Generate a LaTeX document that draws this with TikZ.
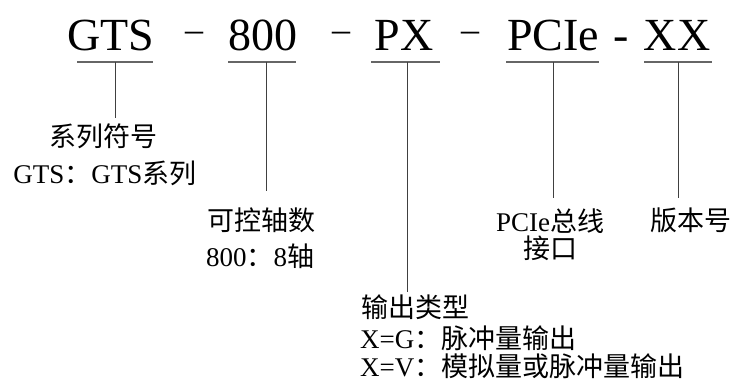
\documentclass[tikz,border=0pt]{standalone}
\usepackage{fontspec}
\setmainfont{Liberation Serif}
\newfontfamily\cjk{Noto Sans CJK SC}
\begin{document}
\begin{tikzpicture}[x=1pt,y=-1pt,
  title/.style={anchor=base,inner sep=0pt,font=\fontsize{46}{46}\selectfont},
  dashmark/.style={anchor=base,inner sep=0pt,font=\fontsize{36}{36}\selectfont},
  lbl/.style={anchor=base,inner sep=0pt,font=\fontsize{27}{30}\selectfont},
  lbll/.style={anchor=base west,inner sep=0pt,font=\fontsize{27}{30}\selectfont},
  uline/.style={draw=black!60,line width=1.1pt},
  conn/.style={draw=black!75,line width=1pt}]
\useasboundingbox (0,0) rectangle (736,383);
% title row
\node[title] (tGTS) at (111,50) {GTS};
\node[dashmark] (d1) at (194,41) {–};
\node[title] (t800) at (263,50) {800};
\node[dashmark] (d2) at (341,41) {–};
\node[title] (tPX) at (404,50) {PX};
\node[dashmark] (d3) at (470,41) {–};
\node[title] (tPCIe) at (553,50) {PCIe};
\node[title] (d4) at (621,50) {-};
\node[title] (tXX) at (677,50) {XX};
% underlines
\coordinate (u1a) at (77,62);  \coordinate (u1b) at (153,62);
\coordinate (u2a) at (228,62); \coordinate (u2b) at (296,62);
\coordinate (u3a) at (371,62); \coordinate (u3b) at (440,62);
\coordinate (u4a) at (506,62); \coordinate (u4b) at (599,62);
\coordinate (u5a) at (644,62); \coordinate (u5b) at (712,62);
\draw[uline] (u1a) -- (u1b);
\draw[uline] (u2a) -- (u2b);
\draw[uline] (u3a) -- (u3b);
\draw[uline] (u4a) -- (u4b);
\draw[uline] (u5a) -- (u5b);
% labels
\node[lbl] (l1a) at (103,146) {{\cjk 系列符号}};
\node[lbl] (l1b) at (105,183) {GTS{\cjk ：}GTS{\cjk 系列}};
\node[lbl] (l2a) at (261,230) {{\cjk 可控轴数}};
\node[lbl] (l2b) at (260,266) {800{\cjk ：}8{\cjk 轴}};
\node[lbll] (l3a) at (361,317) {{\cjk 输出类型}};
\node[lbll] (l3b) at (360,348) {X=G{\cjk ：脉冲量输出}};
\node[lbll] (l3c) at (360,376) {X=V{\cjk ：模拟量或脉冲量输出}};
\node[lbl] (l4a) at (550,231) {PCIe{\cjk 总线}};
\node[lbl] (l4b) at (550,258) {{\cjk 接口}};
\node[lbl] (l5a) at (691,230) {{\cjk 版本号}};
% connectors
\coordinate (c1s) at (115,62); \coordinate (c1e) at (115,118);
\coordinate (c2s) at (266,62); \coordinate (c2e) at (266,191);
\coordinate (c3s) at (407,62); \coordinate (c3e) at (407,292);
\coordinate (c4s) at (553,62); \coordinate (c4e) at (553,198);
\coordinate (c5s) at (678,62); \coordinate (c5e) at (678,198);
\draw[conn] (c1s) -- (c1e);
\draw[conn] (c2s) -- (c2e);
\draw[conn] (c3s) -- (c3e);
\draw[conn] (c4s) -- (c4e);
\draw[conn] (c5s) -- (c5e);
\end{tikzpicture}
\end{document}
